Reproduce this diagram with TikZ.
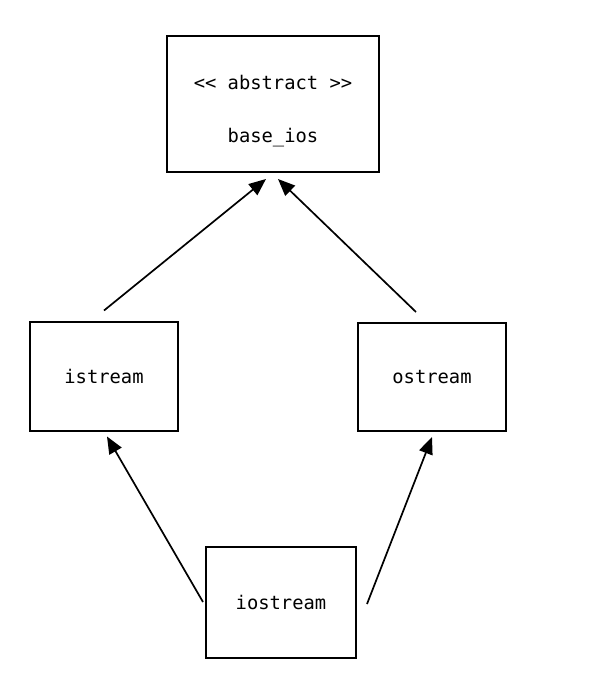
\documentclass[tikz,border=0pt]{standalone}
\usepackage{fontspec}
\setmonofont{DejaVu Sans Mono}
\usetikzlibrary{arrows.meta}
\begin{document}
\begin{tikzpicture}[x=1pt,y=-1pt,
  lbl/.style={font=\ttfamily\fontsize{18.8}{21}\selectfont},
  box/.style={draw=black,line width=2pt,rectangle,inner sep=0pt,lbl},
  arr/.style={draw=black,line width=1.7pt,-{Triangle[length=17pt,width=14pt]}}]
\useasboundingbox[fill=white] (0,0) rectangle (613,673);
\node[box,minimum width=212pt,minimum height=136pt] (base) at (273,104) {};
\node[lbl] (abs) at (273,82) {<{}< abstract >{}>};
\node[lbl] (bname) at (273,138) {base\_ios};
\node[box,minimum width=148pt,minimum height=109pt] (istream) at (104,376) {istream};
\node[box,minimum width=148pt,minimum height=108pt] (ostream) at (432,377) {ostream};
\node[box,minimum width=150pt,minimum height=111pt] (iostream) at (281,602) {iostream};
\draw[arr] ([yshift=10pt]istream.north) -- ([xshift=-7pt,yshift=-6pt]base.south);
\draw[arr] ([xshift=-16pt,yshift=10pt]ostream.north) -- ([xshift=5pt,yshift=-6pt]base.south);
\draw[arr] ([xshift=-2pt]iostream.west) -- ([xshift=3pt,yshift=-5pt]istream.south);
\draw[arr] ([xshift=10pt,yshift=-2pt]iostream.east) -- ([yshift=-5pt]ostream.south);
\end{tikzpicture}
\end{document}
